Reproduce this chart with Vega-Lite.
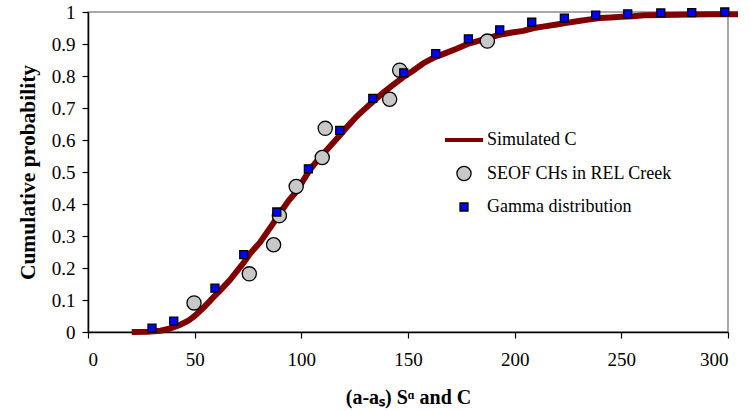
{
  "$schema": "https://vega.github.io/schema/vega-lite/v6.json",
  "width": 640,
  "height": 320,
  "autosize": {"type": "none"},
  "padding": {"left": 88, "top": 12, "right": 22, "bottom": 79},
  "background": "white",
  "config": {
    "font": "Liberation Serif",
    "view": {"stroke": "#8c8c8c", "strokeWidth": 1.5},
    "axis": {
      "grid": false,
      "domainColor": "black",
      "domainWidth": 1.5,
      "tickColor": "black",
      "tickSize": 6,
      "tickWidth": 1.2,
      "labelColor": "black",
      "labelFont": "Liberation Serif",
      "labelFontSize": 19,
      "labelPadding": 7,
      "titleFont": "Liberation Serif",
      "titleFontSize": 20,
      "titleFontWeight": "bold",
      "titleColor": "black"
    }
  },
  "data": {
    "values": [
      {"series": "Simulated C", "x": 20.5, "y": 0},
      {"series": "Simulated C", "x": 28, "y": 0.001},
      {"series": "Simulated C", "x": 34, "y": 0.004},
      {"series": "Simulated C", "x": 38, "y": 0.01},
      {"series": "Simulated C", "x": 43, "y": 0.022},
      {"series": "Simulated C", "x": 47, "y": 0.035},
      {"series": "Simulated C", "x": 50, "y": 0.05},
      {"series": "Simulated C", "x": 54, "y": 0.075},
      {"series": "Simulated C", "x": 58.7, "y": 0.108},
      {"series": "Simulated C", "x": 62, "y": 0.13},
      {"series": "Simulated C", "x": 66.6, "y": 0.163},
      {"series": "Simulated C", "x": 72.8, "y": 0.215},
      {"series": "Simulated C", "x": 76, "y": 0.245},
      {"series": "Simulated C", "x": 80.6, "y": 0.28},
      {"series": "Simulated C", "x": 86.9, "y": 0.34},
      {"series": "Simulated C", "x": 90, "y": 0.372},
      {"series": "Simulated C", "x": 94, "y": 0.41},
      {"series": "Simulated C", "x": 97.8, "y": 0.44},
      {"series": "Simulated C", "x": 104, "y": 0.507},
      {"series": "Simulated C", "x": 108, "y": 0.54},
      {"series": "Simulated C", "x": 111.9, "y": 0.569},
      {"series": "Simulated C", "x": 118.1, "y": 0.615},
      {"series": "Simulated C", "x": 122, "y": 0.645},
      {"series": "Simulated C", "x": 126, "y": 0.674},
      {"series": "Simulated C", "x": 132.2, "y": 0.712},
      {"series": "Simulated C", "x": 138.4, "y": 0.748},
      {"series": "Simulated C", "x": 143, "y": 0.772},
      {"series": "Simulated C", "x": 147.5, "y": 0.795},
      {"series": "Simulated C", "x": 152, "y": 0.815},
      {"series": "Simulated C", "x": 157.2, "y": 0.84},
      {"series": "Simulated C", "x": 162, "y": 0.857},
      {"series": "Simulated C", "x": 167, "y": 0.87},
      {"series": "Simulated C", "x": 172.8, "y": 0.885},
      {"series": "Simulated C", "x": 178, "y": 0.9},
      {"series": "Simulated C", "x": 183, "y": 0.91},
      {"series": "Simulated C", "x": 188.4, "y": 0.92},
      {"series": "Simulated C", "x": 193, "y": 0.929},
      {"series": "Simulated C", "x": 198, "y": 0.935},
      {"series": "Simulated C", "x": 204, "y": 0.941},
      {"series": "Simulated C", "x": 209, "y": 0.95},
      {"series": "Simulated C", "x": 214, "y": 0.955},
      {"series": "Simulated C", "x": 219.7, "y": 0.961},
      {"series": "Simulated C", "x": 224.4, "y": 0.966},
      {"series": "Simulated C", "x": 230, "y": 0.972},
      {"series": "Simulated C", "x": 235.3, "y": 0.977},
      {"series": "Simulated C", "x": 240, "y": 0.981},
      {"series": "Simulated C", "x": 245, "y": 0.983},
      {"series": "Simulated C", "x": 250, "y": 0.985},
      {"series": "Simulated C", "x": 255.6, "y": 0.987},
      {"series": "Simulated C", "x": 260.6, "y": 0.99},
      {"series": "Simulated C", "x": 270, "y": 0.991},
      {"series": "Simulated C", "x": 282, "y": 0.992},
      {"series": "Simulated C", "x": 292, "y": 0.993},
      {"series": "Simulated C", "x": 304.7, "y": 0.993},
      {"series": "SEOF CHs in REL Creek", "x": 49.7, "y": 0.0909},
      {"series": "SEOF CHs in REL Creek", "x": 75.6, "y": 0.1818},
      {"series": "SEOF CHs in REL Creek", "x": 87.0, "y": 0.2727},
      {"series": "SEOF CHs in REL Creek", "x": 89.7, "y": 0.3636},
      {"series": "SEOF CHs in REL Creek", "x": 97.6, "y": 0.4545},
      {"series": "SEOF CHs in REL Creek", "x": 109.8, "y": 0.5455},
      {"series": "SEOF CHs in REL Creek", "x": 111.2, "y": 0.6364},
      {"series": "SEOF CHs in REL Creek", "x": 141.4, "y": 0.7273},
      {"series": "SEOF CHs in REL Creek", "x": 146.1, "y": 0.8182},
      {"series": "SEOF CHs in REL Creek", "x": 187.2, "y": 0.9091},
      {"series": "Gamma distribution", "x": 30, "y": 0.012},
      {"series": "Gamma distribution", "x": 40.2, "y": 0.034},
      {"series": "Gamma distribution", "x": 59.5, "y": 0.137},
      {"series": "Gamma distribution", "x": 73, "y": 0.242},
      {"series": "Gamma distribution", "x": 88.5, "y": 0.375},
      {"series": "Gamma distribution", "x": 103.3, "y": 0.51},
      {"series": "Gamma distribution", "x": 118, "y": 0.63},
      {"series": "Gamma distribution", "x": 133.5, "y": 0.73},
      {"series": "Gamma distribution", "x": 148, "y": 0.81},
      {"series": "Gamma distribution", "x": 163, "y": 0.87},
      {"series": "Gamma distribution", "x": 178.3, "y": 0.916},
      {"series": "Gamma distribution", "x": 193, "y": 0.944},
      {"series": "Gamma distribution", "x": 208, "y": 0.968},
      {"series": "Gamma distribution", "x": 223.3, "y": 0.981},
      {"series": "Gamma distribution", "x": 238, "y": 0.99},
      {"series": "Gamma distribution", "x": 253, "y": 0.994},
      {"series": "Gamma distribution", "x": 268.5, "y": 0.997},
      {"series": "Gamma distribution", "x": 283, "y": 0.998},
      {"series": "Gamma distribution", "x": 298.5, "y": 1.0}
    ]
  },
  "encoding": {
    "x": {
      "field": "x",
      "type": "quantitative",
      "scale": {"domain": [0, 300], "nice": false},
      "axis": {"values": [0, 50, 100, 150, 200, 250, 300], "title": "(a-aₛ) Sᵅ and C", "labelPadding": 12, "titlePadding": 18}
    },
    "y": {
      "field": "y",
      "type": "quantitative",
      "scale": {"domain": [0, 1], "nice": false},
      "axis": {"values": [0, 0.1, 0.2, 0.3, 0.4, 0.5, 0.6, 0.7, 0.8, 0.9, 1], "format": "~g", "title": "Cumulative probability", "titleFontSize": 21.5, "titlePadding": 12}
    }
  },
  "layer": [
    {
      "transform": [{"filter": "datum.series === 'Simulated C'"}],
      "mark": {"type": "line", "color": "#800000", "strokeWidth": 6, "clip": false}
    },
    {
      "transform": [{"filter": "datum.series !== 'Simulated C'"}],
      "mark": {"type": "point", "filled": true, "opacity": 1},
      "encoding": {
        "shape": {
          "field": "series",
          "type": "nominal",
          "scale": {"domain": ["Simulated C", "SEOF CHs in REL Creek", "Gamma distribution"], "range": ["stroke", "circle", "square"]},
          "legend": {
            "title": null,
            "orient": "none",
            "legendX": 355,
            "legendY": 107,
            "labelFont": "Liberation Serif",
            "labelFontSize": 18,
            "labelColor": "black",
            "labelOffset": 2,
            "labelLimit": 400,
            "rowPadding": 14.5
          }
        },
        "fill": {
          "field": "series",
          "type": "nominal",
          "scale": {"domain": ["Simulated C", "SEOF CHs in REL Creek", "Gamma distribution"], "range": ["#800000", "#c8c8c8", "#0000ff"]}
        },
        "stroke": {
          "field": "series",
          "type": "nominal",
          "scale": {"domain": ["Simulated C", "SEOF CHs in REL Creek", "Gamma distribution"], "range": ["#800000", "#000000", "#000000"]}
        },
        "strokeWidth": {
          "field": "series",
          "type": "nominal",
          "scale": {"type": "ordinal", "domain": ["Simulated C", "SEOF CHs in REL Creek", "Gamma distribution"], "range": [4, 1.3, 1.3]}
        },
        "size": {
          "field": "series",
          "type": "nominal",
          "scale": {"type": "ordinal", "domain": ["Simulated C", "SEOF CHs in REL Creek", "Gamma distribution"], "range": [1444, 201, 64]}
        }
      }
    }
  ]
}
